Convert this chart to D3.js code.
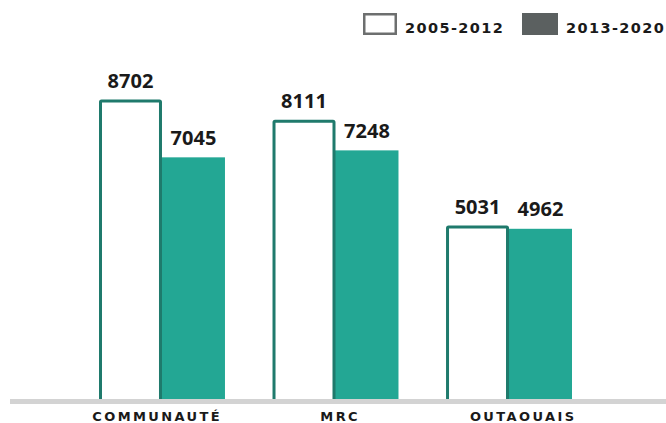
<!DOCTYPE html>
<html>
<head>
<meta charset="utf-8">
<script src="https://cdn.jsdelivr.net/npm/d3@7"></script>
<style>
  html, body { margin: 0; padding: 0; background: #fff; }
  svg { display: block; }
</style>
</head>
<body>
<svg id="chart" width="666" height="423"></svg>
<script>
// Regions compared over two periods
const categories = ["COMMUNAUTÉ", "MRC", "OUTAOUAIS"];
const periods = ["2005-2012", "2013-2020"];
const values2005_2012 = [8702, 8111, 5031];
const values2013_2020 = [7045, 7248, 4962];

const W = 666, H = 423;
const svg = d3.select("#chart");

const baseline = 399;
const x = d3.scaleBand().domain(categories).range([99, 572]).paddingInner(0.274).paddingOuter(0);
const inner = d3.scaleBand().domain(periods).range([0, x.bandwidth()]).padding(0);
const y = d3.scaleLinear().domain([0, 8702]).range([baseline, 100.5]);
// category label positions along the axis
const xLabel = d3.scalePoint().domain(categories).range([156, 522]);

const series = [values2005_2012, values2013_2020];
const rows = categories.map((c, i) => ({ c, v: periods.map((p, j) => ({ p, v: series[j][i] })) }));

const groups = svg.selectAll("g.grp").data(rows).join("g")
  .attr("class", "grp")
  .attr("transform", d => `translate(${x(d.c)},0)`);

// 2013-2020 filled bars (drawn first so the outlined bar's edge sits on top)
groups.append("rect")
  .attr("x", inner(periods[1]) - 2)
  .attr("width", inner.bandwidth() + 2)
  .attr("y", d => y(d.v[1].v))
  .attr("height", d => baseline - y(d.v[1].v))
  .attr("fill", "#23a794");

// 2005-2012 outlined bars
groups.append("rect")
  .attr("x", inner(periods[0]) + 1.5)
  .attr("width", inner.bandwidth() - 3)
  .attr("y", d => y(d.v[0].v) + 0.5)
  .attr("height", d => baseline - y(d.v[0].v) + 2)
  .attr("fill", "#fff")
  .attr("stroke", "#1f7a6c")
  .attr("stroke-width", 3)
  .attr("rx", 1);

// value labels
groups.selectAll("text.val").data(d => d.v).join("text")
  .attr("class", "val")
  .attr("x", d => inner(d.p) + inner.bandwidth() / 2)
  .attr("y", d => y(d.v) - 12.5)
  .attr("text-anchor", "middle")
  .attr("font-family", "'Open Sans', sans-serif")
  .attr("font-weight", 700)
  .attr("font-size", 20)
  .attr("fill", "#1a1a1a")
  .text(d => d.v);

// baseline axis
svg.append("rect")
  .attr("x", 10).attr("y", baseline)
  .attr("width", W - 10).attr("height", 5)
  .attr("fill", "#d3d3d3");

// category axis labels
svg.selectAll("text.cat").data(categories).join("text")
  .attr("class", "cat")
  .attr("x", d => xLabel(d) + 1.2)
  .attr("y", 421)
  .attr("text-anchor", "middle")
  .attr("font-family", "'DejaVu Sans', sans-serif")
  .attr("font-weight", 700)
  .attr("font-size", 13)
  .attr("letter-spacing", "2.4px")
  .attr("fill", "#1a1a1a")
  .text(d => d);

// legend
const legend = svg.append("g");
const legendItems = [
  { label: periods[0], x: 363, fill: "#fff", stroke: "#6d6f6f", w: 34 },
  { label: periods[1], x: 522, fill: "#5b6060", stroke: "none", w: 36 }
];
legendItems.forEach(it => {
  const outlined = it.stroke !== "none";
  legend.append("rect")
    .attr("x", outlined ? it.x + 1.25 : it.x)
    .attr("y", outlined ? 14.25 : 13)
    .attr("width", outlined ? it.w - 2.5 : it.w)
    .attr("height", outlined ? 19.5 : 22)
    .attr("fill", it.fill)
    .attr("stroke", it.stroke)
    .attr("stroke-width", 2.5);
  legend.append("text")
    .attr("x", it.x + it.w + 8)
    .attr("y", 33)
    .attr("font-family", "'DejaVu Sans', sans-serif")
    .attr("font-weight", 700)
    .attr("font-size", 14.5)
    .attr("letter-spacing", "1.4px")
    .attr("fill", "#1a1a1a")
    .text(it.label);
});
</script>
</body>
</html>
